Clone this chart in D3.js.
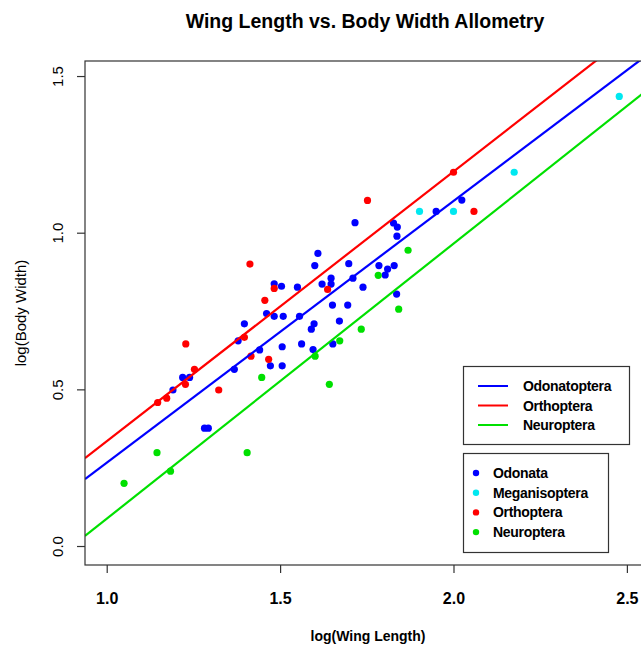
<!DOCTYPE html>
<html>
<head>
<meta charset="utf-8">
<script src="https://cdn.jsdelivr.net/npm/d3@7"></script>
<style>
  body { margin: 0; background: #fff; }
  text { font-family: "Liberation Sans", Arial, sans-serif; fill: #000; }
</style>
</head>
<body>
<div id="chart"></div>
<script>

// point data, [log(wing length), log(body width)]
var odonata = [
  [1.716, 1.032], [1.609, 0.934], [1.600, 0.895], [1.698, 0.901], [1.785, 0.895],
  [1.810, 0.884], [1.829, 0.895], [1.803, 0.865], [1.710, 0.855], [1.647, 0.855],
  [1.647, 0.836], [1.621, 0.836], [1.550, 0.826], [1.483, 0.837], [1.504, 0.829],
  [1.739, 0.826], [1.836, 0.804], [1.651, 0.769], [1.695, 0.769], [1.461, 0.742],
  [1.483, 0.733], [1.509, 0.733], [1.556, 0.733], [1.671, 0.718], [1.598, 0.709],
  [1.590, 0.692], [1.397, 0.709], [1.379, 0.655], [1.506, 0.636], [1.562, 0.645],
  [1.652, 0.645], [1.441, 0.626], [1.595, 0.627], [1.472, 0.575], [1.506, 0.575],
  [1.368, 0.564], [1.219, 0.538], [1.239, 0.538], [1.191, 0.498], [1.282, 0.376],
  [1.293, 0.376], [1.827, 1.031], [1.838, 1.018], [1.837, 0.989], [1.950, 1.068],
  [2.024, 1.104]
];
var meganisoptera = [
  [1.902, 1.068], [2.000, 1.068], [2.175, 1.193], [2.478, 1.435]
];
var orthoptera = [
  [1.752, 1.103], [2.000, 1.193], [2.059, 1.068], [1.413, 0.900], [1.483, 0.822],
  [1.637, 0.819], [1.456, 0.784], [1.397, 0.666], [1.228, 0.645], [1.416, 0.606],
  [1.467, 0.596], [1.253, 0.564], [1.227, 0.516], [1.323, 0.498], [1.173, 0.472],
  [1.147, 0.458]
];
var neuroptera = [
  [1.869, 0.944], [1.783, 0.864], [1.842, 0.756], [1.734, 0.692], [1.672, 0.655],
  [1.601, 0.606], [1.447, 0.538], [1.642, 0.516], [1.145, 0.298], [1.405, 0.298],
  [1.184, 0.239], [1.050, 0.200]
];

var pointGroups = ["Odonata", "Meganisoptera", "Orthoptera", "Neuroptera"];
var pointColors = ["#0000ff", "#00e8f0", "#ff0000", "#00e000"];
var pointData = [odonata, meganisoptera, orthoptera, neuroptera];

// fitted lines (y = a + b*x)
var fitGroups = ["Odonatoptera", "Orthoptera", "Neuroptera"];
var fitColors = ["#0000ff", "#ff0000", "#00e000"];
var fitSlope = [0.835, 0.861, 0.878];
var fitIntercept = [-0.569, -0.527, -0.791];

var xTicks = [1.0, 1.5, 2.0, 2.5];
var yTicks = [0.0, 0.5, 1.0, 1.5];

var W = 641, H = 646;
var margin = {left: 85, top: 61, right: 647, bottom: 565};

var x = d3.scaleLinear().domain([0.9374, 2.558]).range([margin.left, margin.right]);
var y = d3.scaleLinear().domain([-0.0606, 1.548]).range([margin.bottom, margin.top]);

var svg = d3.select("#chart").append("svg")
    .attr("width", W)
    .attr("height", H);

svg.append("clipPath")
    .attr("id", "plotclip")
  .append("rect")
    .attr("x", margin.left)
    .attr("y", margin.top)
    .attr("width", margin.right - margin.left)
    .attr("height", margin.bottom - margin.top);

// title
svg.append("text")
    .attr("x", 365)
    .attr("y", 28)
    .attr("text-anchor", "middle")
    .style("font-size", "19.5px")
    .style("font-weight", "bold")
    .text("Wing Length vs. Body Width Allometry");

// points
var allPts = [];
pointData.forEach(function(arr, i) {
  arr.forEach(function(p) { allPts.push({x: p[0], y: p[1], c: pointColors[i]}); });
});

svg.append("g")
    .attr("clip-path", "url(#plotclip)")
  .selectAll("circle")
    .data(allPts)
  .enter().append("circle")
    .attr("cx", function(d) { return x(d.x); })
    .attr("cy", function(d) { return y(d.y); })
    .attr("r", 3.6)
    .attr("fill", function(d) { return d.c; });

// regression lines
var xd = x.domain();
svg.append("g")
    .attr("clip-path", "url(#plotclip)")
  .selectAll("line")
    .data(fitGroups)
  .enter().append("line")
    .attr("x1", x(xd[0]))
    .attr("x2", x(xd[1]))
    .attr("y1", function(d, i) { return y(fitIntercept[i] + fitSlope[i] * xd[0]); })
    .attr("y2", function(d, i) { return y(fitIntercept[i] + fitSlope[i] * xd[1]); })
    .attr("stroke", function(d, i) { return fitColors[i]; })
    .attr("stroke-width", 2.2);

// plot box
svg.append("rect")
    .attr("x", margin.left)
    .attr("y", margin.top)
    .attr("width", margin.right - margin.left)
    .attr("height", margin.bottom - margin.top)
    .attr("fill", "none")
    .attr("stroke", "#333")
    .attr("stroke-width", 1.2);

// x axis
var xAxis = svg.append("g")
    .attr("transform", "translate(0," + margin.bottom + ")")
    .call(d3.axisBottom(x).tickValues(xTicks).tickSize(8).tickFormat(d3.format(".1f")));
xAxis.select(".domain").remove();
xAxis.selectAll(".tick line").attr("stroke", "#333").attr("stroke-width", 1.2);
xAxis.selectAll("text")
    .attr("y", 39)
    .attr("dy", 0)
    .style("font-size", "16px")
    .style("font-weight", "bold")
    .style("font-family", "'Liberation Sans', Arial, sans-serif")
    .attr("fill", "#000");

// y axis
var yAxis = svg.append("g")
    .attr("transform", "translate(" + margin.left + ",0)")
    .call(d3.axisLeft(y).tickValues(yTicks).tickSize(8).tickFormat(d3.format(".1f")));
yAxis.select(".domain").remove();
yAxis.selectAll(".tick line").attr("stroke", "#333").attr("stroke-width", 1.2);
yAxis.selectAll("text")
    .attr("transform", "rotate(-90)")
    .attr("x", 0)
    .attr("y", -22)
    .attr("dy", 0)
    .attr("text-anchor", "middle")
    .style("font-size", "15px")
    .style("font-family", "'Liberation Sans', Arial, sans-serif")
    .attr("fill", "#000");

// axis titles
svg.append("text")
    .attr("x", 368)
    .attr("y", 641)
    .attr("text-anchor", "middle")
    .style("font-size", "14px")
    .style("font-weight", "bold")
    .text("log(Wing Length)");

svg.append("text")
    .attr("transform", "translate(26," + ((margin.top + margin.bottom) / 2) + ") rotate(-90)")
    .attr("text-anchor", "middle")
    .style("font-size", "15px")
    .text("log(Body Width)");

// legend for lines
var lg1 = svg.append("g");
lg1.append("rect")
    .attr("x", 463.5).attr("y", 366.5)
    .attr("width", 166).attr("height", 78)
    .attr("fill", "#fff").attr("stroke", "#333").attr("stroke-width", 1.2);
fitGroups.forEach(function(g, i) {
  var yy = 386 + i * 19.5;
  lg1.append("line")
      .attr("x1", 478).attr("x2", 508)
      .attr("y1", yy).attr("y2", yy)
      .attr("stroke", fitColors[i]).attr("stroke-width", 2);
  lg1.append("text")
      .attr("x", 523).attr("y", yy + 5)
      .style("font-size", "14px")
      .style("font-weight", "bold")
      .style("letter-spacing", "-0.3px")
      .text(g);
});

// legend for points
var lg2 = svg.append("g");
lg2.append("rect")
    .attr("x", 463.5).attr("y", 453.5)
    .attr("width", 145).attr("height", 99)
    .attr("fill", "#fff").attr("stroke", "#333").attr("stroke-width", 1.2);
pointGroups.forEach(function(g, i) {
  var yy = 473 + i * 19.7;
  lg2.append("circle")
      .attr("cx", 476).attr("cy", yy)
      .attr("r", 3.2)
      .attr("fill", pointColors[i]);
  lg2.append("text")
      .attr("x", 493).attr("y", yy + 5)
      .style("font-size", "14px")
      .style("font-weight", "bold")
      .style("letter-spacing", "-0.3px")
      .text(g);
});

</script>
</body>
</html>
